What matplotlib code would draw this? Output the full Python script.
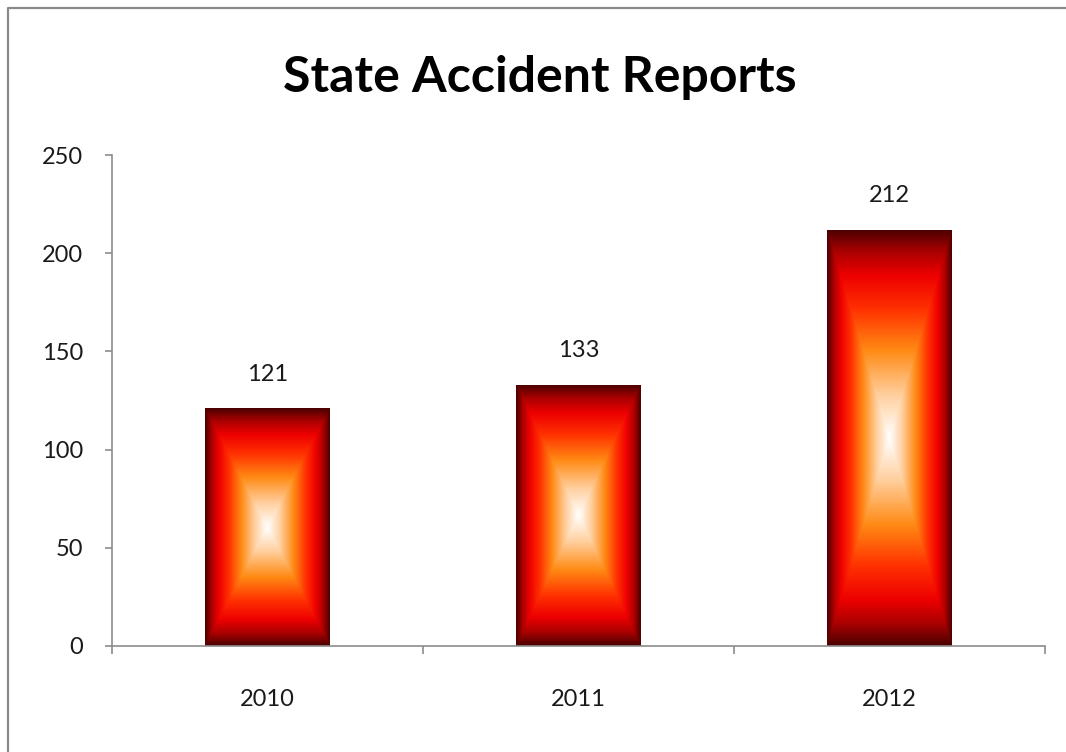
import numpy as np
import matplotlib
matplotlib.use("Agg")
import matplotlib.pyplot as plt
from matplotlib.colors import LinearSegmentedColormap
from matplotlib.patches import Rectangle
from matplotlib.lines import Line2D

years = ["2010", "2011", "2012"]
reports = [121, 133, 212]
yticks = [0, 50, 100, 150, 200, 250]
title = "State Accident Reports"

plt.rcParams['font.family'] = ['Lato', 'DejaVu Sans']

W, H = 1066, 752
fig = plt.figure(figsize=(W / 100, H / 100), dpi=100)
fig.patch.set_facecolor("white")

# outer chart border (left and top only visible)
bx, by = 8 / W, 1 - 8 / H
fig.add_artist(Line2D([bx, bx, 1.01], [-0.01, by, by], transform=fig.transFigure,
                      color="#8a8a8a", linewidth=1.6))

ax = fig.add_axes([112 / W, 1 - 646 / H, (1045 - 112) / W, (646 - 155) / H])
x = np.arange(len(years))
bars = ax.bar(x, reports, width=0.4, color="none", edgecolor="none", zorder=2)

cmap = LinearSegmentedColormap.from_list("fire", [
    (0.0, "#ffffff"),
    (0.2, "#ffd0a0"),
    (0.42, "#ff8a14"),
    (0.62, "#ff3000"),
    (0.78, "#ee0000"),
    (0.9, "#a80000"),
    (1.0, "#4c0000"),
])
n = 300
gx = np.linspace(-1, 1, n)
gy = np.linspace(-1, 1, n)
GX, GY = np.meshgrid(gx, gy)
T = np.maximum(np.abs(GX), np.abs(GY))
for b in bars:
    x0, y0 = b.get_x(), b.get_y()
    w, h = b.get_width(), b.get_height()
    im = ax.imshow(T, cmap=cmap, vmin=0, vmax=1, extent=[x0, x0 + w, y0, y0 + h],
                   aspect="auto", interpolation="bilinear", zorder=2)
    im.set_clip_path(b)

ax.bar_label(bars, labels=[str(v) for v in reports], padding=17, fontsize=17, color="#1a1a1a")

ax.set_xlim(-0.5, len(years) - 0.5)
ax.set_ylim(0, 250)
ax.set_yticks(yticks)
ax.set_yticklabels([str(t) for t in yticks])
ax.set_xticks(x)
ax.set_xticklabels(years)
ax.set_xticks(np.arange(len(years) + 1) - 0.5, minor=True)

for s in ["top", "right"]:
    ax.spines[s].set_visible(False)
for s in ["left", "bottom"]:
    ax.spines[s].set_color("#8c8c8c")
    ax.spines[s].set_linewidth(1.2)

ax.tick_params(axis="y", length=5, width=1.2, color="#8c8c8c", pad=16, labelsize=17, labelcolor="#1a1a1a")
ax.tick_params(axis="x", which="major", length=0, pad=31, labelsize=17, labelcolor="#1a1a1a")
ax.tick_params(axis="x", which="minor", length=6, width=1.2, color="#8c8c8c", direction="out")

fig.text(540 / W, 1 - 77 / H, title, ha="center", va="center", fontsize=36, fontweight="bold", color="#000000")

fig.savefig("out.png", dpi=100)
